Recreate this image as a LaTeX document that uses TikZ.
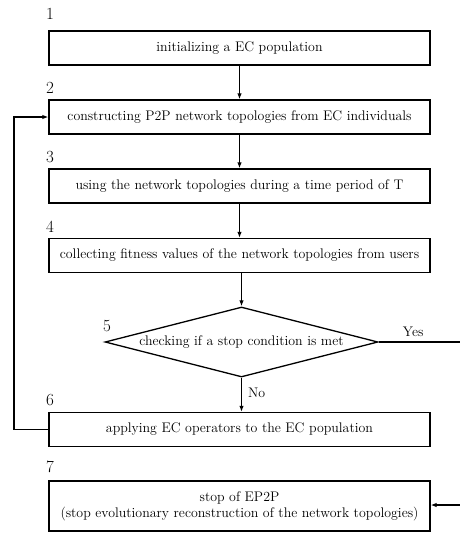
\documentclass[tikz,border=0pt]{standalone}
\usetikzlibrary{shapes.geometric,arrows.meta}
\begin{document}
\begin{tikzpicture}[x=1pt,y=-1pt,
  box/.style={draw,line width=1.3pt,rectangle,minimum width=381pt,minimum height=34pt,inner sep=0pt,font=\fontsize{13.9}{16}\selectfont,align=center},
  dec/.style={draw,line width=1.3pt,diamond,aspect=3.9,minimum width=273pt,minimum height=70pt,inner sep=0pt,font=\fontsize{13.9}{16}\selectfont},
  num/.style={font=\fontsize{17}{20}\selectfont,inner sep=0pt},
  lbl/.style={font=\fontsize{13.9}{16}\selectfont,inner sep=0pt},
  conn/.style={line width=1.3pt,-{Latex[length=6pt,width=4.5pt]}},
  line/.style={line width=1.3pt}]
\useasboundingbox (0,0) rectangle (460,533);
\node[box] (b1) at (239.5,48) {initializing a EC population};
\node[box] (b2) at (239.5,117) {constructing P2P network topologies from EC individuals};
\node[box] (b3) at (239.5,186) {using the network topologies during a time period of T};
\node[box] (b4) at (239.5,255.5) {collecting fitness values of the network topologies from users};
\node[dec] (d5) at (241.5,342) {checking if a stop condition is met};
\node[box] (b6) at (239.5,429.5) {applying EC operators to the EC population};
\node[box,minimum height=50pt] (b7) at (239.5,506) {stop of EP2P\\(stop evolutionary reconstruction of the network topologies)};
\node[num] (n1) at (50,14) {1};
\node[num] (n2) at (50,88) {2};
\node[num] (n3) at (50,157) {3};
\node[num] (n4) at (50,227) {4};
\node[num] (n5) at (107,326) {5};
\node[num] (n6) at (50,400) {6};
\node[num] (n7) at (50,467) {7};
\coordinate (yes1) at (465,342);
\coordinate (yes2) at (465,505);
\coordinate (lp1) at (14,429.5);
\coordinate (lp2) at (14,117);
\draw[conn] (b1) -- (b2);
\draw[conn] (b2) -- (b3);
\draw[conn] (b3) -- (b4);
\draw[conn] (b4.south -| d5.north) -- (d5.north);
\draw[conn] (d5.south) -- (d5.south |- b6.north) node[lbl,pos=0.45,right=6pt] (no) {No};
\draw[line] (d5.east) -- (yes1) node[lbl,pos=0.4,above=5pt] (yes) {Yes};
\draw[conn] (yes1) -- (yes2) -- (yes2 -| b7.east);
\draw[conn] (b6.west) -- (lp1) -- (lp2) -- (b2.west);
\end{tikzpicture}
\end{document}
